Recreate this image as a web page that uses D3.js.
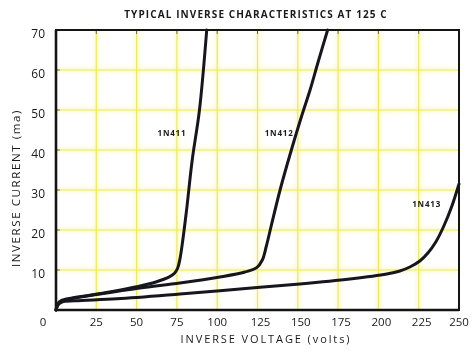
<!DOCTYPE html>
<html><head><meta charset="utf-8">
<script src="https://cdn.jsdelivr.net/npm/d3@7"></script>
<style>
  body { margin: 0; background: #fff; }
  svg { display: block; }
  text { font-family: "Open Sans", "DejaVu Sans", sans-serif; fill: #1a1a1a; }
</style>
</head><body>
<svg id="chart" width="473" height="354"></svg>
<script>
// Axis ticks
const xTicks = [25, 50, 75, 100, 125, 150, 175, 200, 225, 250];
const yTicks = [10, 20, 30, 40, 50, 60, 70];

// Inverse characteristics at 125 C: [inverse voltage (volts), inverse current (ma)]
const curve1N411 = [[0,0],[1,1.5],[3,2.3],[10,3.0],[20,3.6],[35,4.6],[50,5.8],[62,7.0],[70,8.2],[73.5,9.2],[75.5,10.5],[77,13],[78.5,17],[81,25],[84.5,37.5],[89,50],[93.5,70]];
const curve1N412 = [[0,0],[1.9,1.75],[8.7,2.75],[27.3,4],[52,5.5],[76.9,6.75],[101.7,8.25],[117.2,9.5],[124.5,10.6],[128,12.5],[130.5,16],[133.5,21],[139,30],[146,40],[152,48],[157.6,55],[162.6,62],[168.5,70]];
const curve1N413 = [[0,0],[1.2,1.25],[3.7,2],[11.8,2.3],[37.8,2.8],[76.9,4],[114.1,5.25],[151.3,6.5],[182.3,7.75],[205.2,9],[213.3,9.75],[219.5,10.75],[225.7,12.25],[230.7,14.25],[235.6,17],[240.6,21],[245.6,26],[250,31.5]];

const seriesNames = ["1N411", "1N412", "1N413"];
// Where each diode's name is written, in data units
const labelPos = [[63, 43.5], [129.5, 43.5], [221, 25.7]];

const svg = d3.select("#chart");
const x = d3.scaleLinear().domain([0, 250]).range([56, 459]);
const y = d3.scaleLinear().domain([0, 70]).range([310, 30]);

// Soft glow filter for the yellow grid
const defs = svg.append("defs");
defs.append("filter").attr("id", "glow").attr("x", "-50%").attr("y", "-50%").attr("width", "200%").attr("height", "200%")
  .append("feGaussianBlur").attr("stdDeviation", 2.2);

const grid = svg.append("g");
const vLines = xTicks.filter(d => d < 250);
const hLines = yTicks.filter(d => d < 70);

// Halo
const halo = grid.append("g").attr("filter", "url(#glow)");
halo.selectAll("line.vh").data(vLines).join("line").attr("class", "vh")
  .attr("x1", d => x(d)).attr("x2", d => x(d)).attr("y1", y(70)).attr("y2", y(0))
  .attr("stroke", "#f6f28a").attr("stroke-width", 4).attr("opacity", 0.45);
halo.selectAll("line.hh").data(hLines).join("line").attr("class", "hh")
  .attr("x1", x(0)).attr("x2", x(250)).attr("y1", d => y(d)).attr("y2", d => y(d))
  .attr("stroke", "#f6f28a").attr("stroke-width", 4).attr("opacity", 0.45);
// Crisp grid lines
grid.selectAll("line.v").data(vLines).join("line").attr("class", "v")
  .attr("x1", d => x(d)).attr("x2", d => x(d)).attr("y1", y(70)).attr("y2", y(0))
  .attr("stroke", "#ecea5c").attr("stroke-width", 1.2);
grid.selectAll("line.h").data(hLines).join("line").attr("class", "h")
  .attr("x1", x(0)).attr("x2", x(250)).attr("y1", d => y(d)).attr("y2", d => y(d))
  .attr("stroke", "#ecea5c").attr("stroke-width", 1.2);

// Small tick marks on the frame
svg.append("g").selectAll("line").data(vLines).join("line")
  .attr("x1", d => x(d)).attr("x2", d => x(d)).attr("y1", y(70)).attr("y2", y(70) + 4)
  .attr("stroke", "#666").attr("stroke-width", 1);
svg.append("g").selectAll("line").data(hLines).join("line")
  .attr("x1", x(0)).attr("x2", x(0) + 4).attr("y1", d => y(d)).attr("y2", d => y(d))
  .attr("stroke", "#666").attr("stroke-width", 1);

// Frame
svg.append("rect").attr("x", x(0)).attr("y", y(70)).attr("width", x(250) - x(0)).attr("height", y(0) - y(70))
  .attr("fill", "none").attr("stroke", "#141414").attr("stroke-width", 2);
svg.append("line").attr("x1", x(0)).attr("x2", x(0)).attr("y1", y(70)).attr("y2", y(0) + 1)
  .attr("stroke", "#141414").attr("stroke-width", 2.6);
svg.append("line").attr("x1", x(0)).attr("x2", x(250)).attr("y1", y(0)).attr("y2", y(0))
  .attr("stroke", "#141414").attr("stroke-width", 2.6);

// Curves
const line = d3.line().x(d => x(d[0])).y(d => y(d[1])).curve(d3.curveCatmullRom.alpha(0.5));
svg.append("g").selectAll("path").data([curve1N411, curve1N412, curve1N413]).join("path")
  .attr("d", line).attr("fill", "none").attr("stroke", "#17161f")
  .attr("stroke-width", 3).attr("stroke-linejoin", "round").attr("stroke-linecap", "round");

// Curve names
svg.append("g").selectAll("text").data(seriesNames).join("text")
  .attr("x", (d, i) => x(labelPos[i][0])).attr("y", (d, i) => y(labelPos[i][1]))
  .attr("font-size", 8).attr("font-weight", 700).attr("letter-spacing", 0.8)
  .text(d => d);

// Y tick labels
svg.append("g").selectAll("text").data(yTicks).join("text")
  .attr("x", 45).attr("y", d => y(d) + 8).attr("text-anchor", "end")
  .attr("font-size", 12).text(d => d);

// X tick labels
svg.append("g").selectAll("text").data(xTicks).join("text")
  .attr("x", d => x(d) + (d >= 125 && d <= 225 ? 3 : 0)).attr("y", 326).attr("text-anchor", "middle")
  .attr("font-size", 11.5).text(d => d);
svg.append("text").attr("x", 43).attr("y", 326).attr("text-anchor", "middle").attr("font-size", 11.5).text("0");

// Titles
svg.append("text").attr("x", 256).attr("y", 18).attr("text-anchor", "middle")
  .attr("font-size", 10).attr("font-weight", 700).attr("letter-spacing", 1.1)
  .text("TYPICAL INVERSE CHARACTERISTICS AT 125 C");
svg.append("text").attr("x", 266).attr("y", 343).attr("text-anchor", "middle")
  .attr("font-size", 11).attr("letter-spacing", 1.9)
  .text("INVERSE VOLTAGE (volts)");
svg.append("text").attr("transform", "translate(20,188) rotate(-90)").attr("text-anchor", "middle")
  .attr("font-size", 11.5).attr("letter-spacing", 1.6)
  .text("INVERSE CURRENT (ma)");
</script>
</body></html>
